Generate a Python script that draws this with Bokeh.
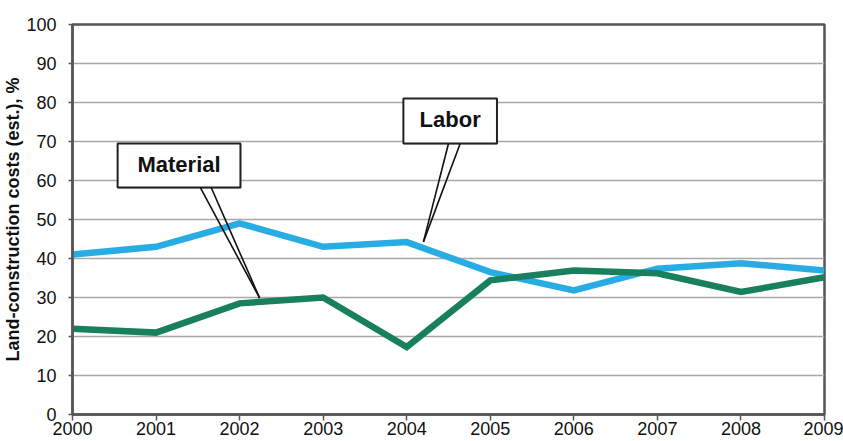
from bokeh.plotting import figure
from bokeh.models import ColumnDataSource, SingleIntervalTicker
from bokeh.core.properties import value
from bokeh.embed import file_html
from bokeh.resources import INLINE
import numpy as np

# Yearly share of land-construction costs, in %
years = [2000, 2001, 2002, 2003, 2004, 2005, 2006, 2007, 2008, 2009]
labor = [41.0, 43.0, 49.0, 43.0, 44.2, 36.5, 31.8, 37.4, 38.8, 36.9]
material = [22.0, 21.0, 28.5, 30.0, 17.3, 34.4, 36.9, 36.2, 31.4, 35.2]

labor_color = "#27ade3"
material_color = "#18805d"
font = "Liberation Sans"

p = figure(width=843, height=441, output_backend="svg", toolbar_location=None,
           x_range=(2000, 2009), y_range=(0, 100),
           min_border_left=72, min_border_right=19, min_border_top=24,
           min_border_bottom=27)
p.background_fill_color = "white"
p.border_fill_color = "white"
p.outline_line_color = "#555555"
p.outline_line_width = 2.5

p.xgrid.grid_line_color = None
p.ygrid.grid_line_color = "#a8a8a8"
p.ygrid.grid_line_width = 1.3
p.yaxis.ticker = SingleIntervalTicker(interval=10)
p.xaxis.ticker = SingleIntervalTicker(interval=1)

for ax in (p.xaxis[0], p.yaxis[0]):
    ax.axis_line_color = "#555555"
    ax.axis_line_width = 2.5
    ax.major_tick_line_color = "#555555"
    ax.major_tick_line_width = 1.5
    ax.minor_tick_line_color = None
    ax.major_tick_in = 0
    ax.major_label_text_font = font
    ax.major_label_text_font_size = "18px"
    ax.major_label_text_color = "#111111"

p.xaxis.major_tick_out = 6
p.xaxis.major_label_standoff = 1
p.yaxis.major_tick_out = 4
p.yaxis.major_label_standoff = 12
p.yaxis.axis_label = "Land-construction costs (est.), %"
p.yaxis.axis_label_text_font = font
p.yaxis.axis_label_text_font_style = "bold"
p.yaxis.axis_label_text_font_size = "18px"
p.yaxis.axis_label_text_color = "#111111"
p.yaxis.axis_label_standoff = 0

src = ColumnDataSource(dict(year=years, labor=labor, material=material))
p.line("year", "labor", source=src, line_color=labor_color, line_width=6.5,
       line_join="miter")
p.line("year", "material", source=src, line_color=material_color, line_width=6.5,
       line_join="miter")

# Callout boxes: label, box extent, wedge base, pointer x and target series
callouts = [
    dict(label="Material", x0=2000.54, x1=2002.01, y0=58.2, y1=69.5,
         b0=2001.53, b1=2001.66, tip=2002.24, series=material, dy=1.0),
    dict(label="Labor", x0=2003.96, x1=2005.08, y0=69.5, y1=81.0,
         b0=2004.50, b1=2004.64, tip=2004.20, series=labor, dy=1.6),
]

for c in callouts:
    tip_y = float(np.interp(c["tip"], years, c["series"])) + c["dy"]
    # shadow behind the box
    p.quad(left=[c["x0"] + 0.012], right=[c["x1"] + 0.012],
           bottom=[c["y0"] - 0.35], top=[c["y1"] - 0.35],
           fill_color="#9a9a9a", fill_alpha=0.5, line_color=None)
    p.quad(left=[c["x0"]], right=[c["x1"]], bottom=[c["y0"]], top=[c["y1"]],
           fill_color="white", line_color="#222222", line_width=2)
    p.multi_line(xs=[[c["b0"], c["tip"]], [c["b1"], c["tip"]]],
                 ys=[[c["y0"], tip_y], [c["y0"], tip_y]],
                 line_color="#111111", line_width=1.6)
    p.text(x=[(c["x0"] + c["x1"]) / 2], y=[(c["y0"] + c["y1"]) / 2 + 0.3],
           text=[c["label"]], text_align="center", text_baseline="middle",
           text_font=value(font), text_font_style="bold",
           text_font_size="22px", text_color="#111111")

open("out.html", "w").write(file_html(p, INLINE))
